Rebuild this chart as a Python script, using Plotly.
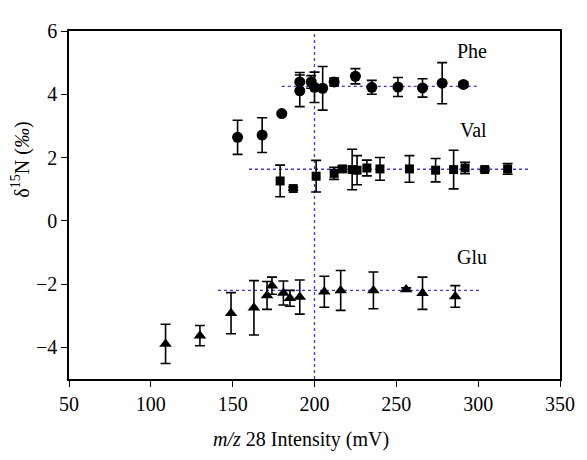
import plotly.graph_objects as go

# Phe (circles)
phe_x = [153, 168, 180, 191, 191, 198, 200, 205, 212, 225, 235, 251, 266, 278, 291]
phe_y = [2.64, 2.71, 3.39, 4.39, 4.11, 4.39, 4.22, 4.19, 4.39, 4.57, 4.22, 4.23, 4.20, 4.35, 4.31]
phe_e = [0.54, 0.55, 0.05, 0.30, 0.50, 0.20, 0.48, 0.69, 0.12, 0.24, 0.22, 0.30, 0.29, 0.65, 0.08]

# Val (squares)
val_x = [179, 187, 201, 212, 217, 223, 226, 232, 240, 258, 274, 285, 292, 304, 318]
val_y = [1.26, 1.02, 1.41, 1.50, 1.64, 1.62, 1.60, 1.67, 1.64, 1.64, 1.60, 1.62, 1.67, 1.62, 1.64]
val_e = [0.50, 0.05, 0.50, 0.19, 0.08, 0.64, 0.46, 0.25, 0.36, 0.42, 0.37, 0.61, 0.18, 0.05, 0.17]

# Glu (triangles)
glu_x = [109, 130, 149, 163, 171, 174, 181, 185, 191, 206, 216, 236, 256, 266, 286]
glu_y = [-3.89, -3.63, -2.92, -2.75, -2.36, -2.05, -2.28, -2.45, -2.41, -2.24, -2.20, -2.20, -2.17, -2.29, -2.39]
glu_e = [0.62, 0.32, 0.65, 0.86, 0.44, 0.27, 0.38, 0.25, 0.54, 0.49, 0.63, 0.58, 0.05, 0.51, 0.34]

# mean lines
phe_mean_x = [180, 300]
phe_mean_y = [4.25, 4.25]
val_mean_x = [160, 331]
val_mean_y = [1.63, 1.63]
glu_mean_x = [141, 301]
glu_mean_y = [-2.2, -2.2]
vline_x = [200, 200]
vline_y = [-5, 6]

labels = ["Phe", "Val", "Glu"]
label_x = [296, 297, 296]
label_y = [5.36, 2.88, -1.13]

x_ticks = [50, 100, 150, 200, 250, 300, 350]
y_ticks = [-4, -2, 0, 2, 4, 6]

LINE_COL = "#3b3bd4"
FONT = "Liberation Serif"
FS = 20

fig = go.Figure()

for mx, my in [(phe_mean_x, phe_mean_y), (val_mean_x, val_mean_y), (glu_mean_x, glu_mean_y)]:
    fig.add_trace(go.Scatter(x=mx, y=my, mode="lines",
                             line=dict(color=LINE_COL, width=1.3, dash="dot"),
                             hoverinfo="skip", showlegend=False))
fig.add_trace(go.Scatter(x=vline_x, y=vline_y, mode="lines",
                         line=dict(color=LINE_COL, width=1.3, dash="dot"),
                         hoverinfo="skip", showlegend=False))

def err(arr):
    return dict(type="data", array=arr, visible=True, color="black", thickness=1.6, width=5)

fig.add_trace(go.Scatter(x=phe_x, y=phe_y, mode="markers", name="Phe",
                         marker=dict(symbol="circle", size=11, color="black"),
                         error_y=err(phe_e), showlegend=False))
fig.add_trace(go.Scatter(x=val_x, y=val_y, mode="markers", name="Val",
                         marker=dict(symbol="square", size=9, color="black"),
                         error_y=err(val_e), showlegend=False))
fig.add_trace(go.Scatter(x=glu_x, y=glu_y, mode="markers", name="Glu",
                         marker=dict(symbol="triangle-up", size=11, color="black"),
                         error_y=err(glu_e), showlegend=False))

for t, lx, ly in zip(labels, label_x, label_y):
    fig.add_annotation(x=lx, y=ly, text=t, showarrow=False,
                       font=dict(family=FONT, size=FS, color="black"))

fig.add_annotation(xref="paper", yref="paper", x=-0.098, y=0.63,
                   xanchor="center", yanchor="middle",
                   text="δ<sup>15</sup>N (<i>‰</i>)", textangle=-90, showarrow=False,
                   font=dict(family=FONT, size=FS, color="black"))
fig.add_annotation(xref="paper", yref="paper", x=0.473, y=-0.173,
                   xanchor="center", yanchor="middle",
                   text="<i>m/z</i> 28 Intensity (mV)", showarrow=False,
                   font=dict(family=FONT, size=FS, color="black"))

# page body has an 8px default margin, so the figure is sized/offset to compensate
fig.update_layout(
    width=579, height=444,
    margin=dict(l=61, r=19, t=12, b=73),
    paper_bgcolor="white", plot_bgcolor="white",
    font=dict(family=FONT, size=FS, color="black"),
    showlegend=False,
)
fig.update_xaxes(range=[50, 350], tickvals=x_ticks,
                 tickfont=dict(family=FONT, size=FS, color="black"),
                 showgrid=False, zeroline=False, showline=True, linecolor="black",
                 linewidth=1.5, mirror=True, ticks="outside", ticklen=6, tickwidth=1.3,
                 tickcolor="black")
fig.update_yaxes(range=[-5, 6], tickvals=y_ticks,
                 tickfont=dict(family=FONT, size=FS, color="black"),
                 showgrid=False, zeroline=False, showline=True, linecolor="black",
                 linewidth=1.5, mirror=True, ticks="outside", ticklen=6, tickwidth=1.3,
                 tickcolor="black")

fig.write_html("out.html")
